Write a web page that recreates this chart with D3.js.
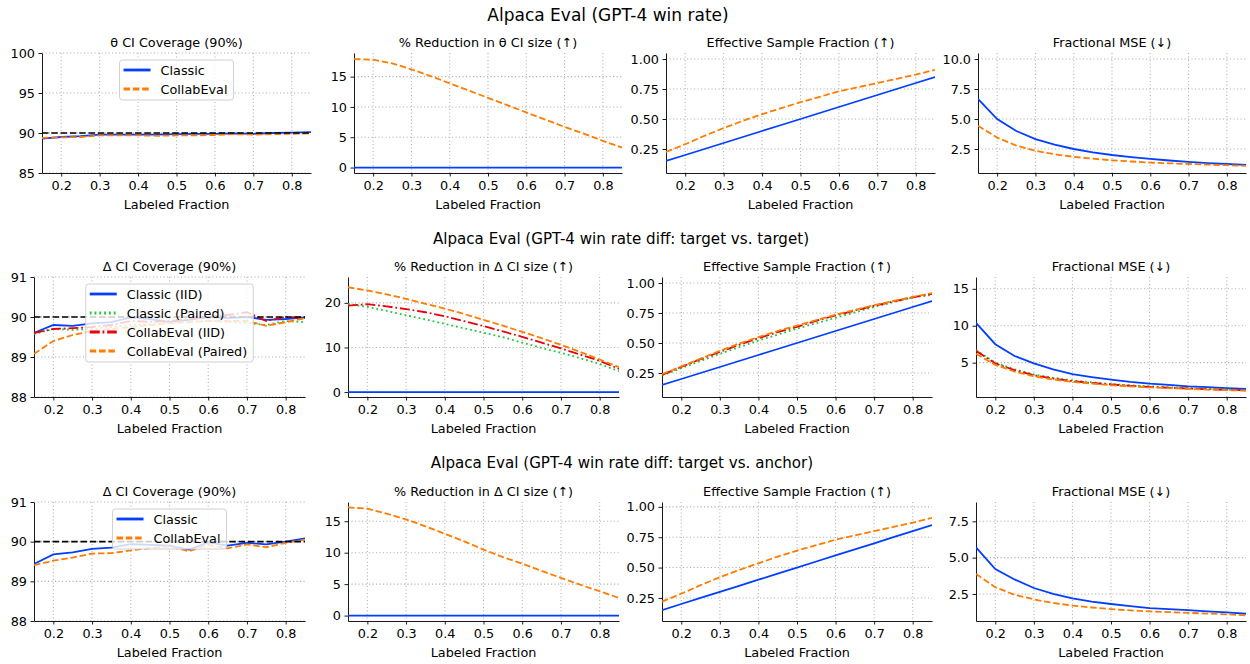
<!DOCTYPE html>
<html lang="en">
<head>
<meta charset="UTF-8">
<script src="https://d3js.org/d3.v7.min.js"></script>
<title>Alpaca Eval</title>
<style>
  body { margin: 0; background: #fff; }
  text { font-family: "DejaVu Sans", sans-serif; fill: #000; }
  .grid line { stroke: #b0b0b0; stroke-width: 1.1; stroke-dasharray: 1.1, 2.4; }
  .axis path, .axis line { stroke: #000; stroke-width: 0.9; }
  .axis text { font-size: 12.8px; }
</style>
</head>
<body>
<svg id="chart" width="1250" height="664"></svg>
<script>
// labeled fraction (x values)
const fracs = [0.15, 0.2, 0.25, 0.3, 0.35, 0.4, 0.45, 0.5, 0.55, 0.6, 0.65, 0.7, 0.75, 0.8, 0.85]
const xTicks = [0.2, 0.3, 0.4, 0.5, 0.6, 0.7, 0.8]

// row 1: GPT-4 win rate
const r1CovClassic = [89.3, 89.5, 89.6, 89.8, 89.8, 89.8, 89.8, 89.85, 89.9, 89.9, 89.95, 89.9, 90.0, 90.05, 90.1]
const r1CovCollab = [89.4, 89.45, 89.5, 89.7, 89.7, 89.7, 89.65, 89.7, 89.7, 89.75, 89.85, 89.8, 89.85, 89.9, 89.95]
const r1RedClassic = [0, 0, 0, 0, 0, 0, 0, 0, 0, 0, 0, 0, 0, 0, 0]
const r1RedCollab = [17.9, 17.8, 17.2, 16.2, 15.1, 13.9, 12.7, 11.5, 10.3, 9.1, 7.9, 6.7, 5.6, 4.4, 3.3]
const r1EffClassic = [0.15, 0.2, 0.25, 0.3, 0.35, 0.4, 0.45, 0.5, 0.55, 0.6, 0.65, 0.7, 0.75, 0.8, 0.85]
const r1EffCollab = [0.225, 0.29, 0.36, 0.425, 0.485, 0.54, 0.59, 0.64, 0.685, 0.73, 0.765, 0.8, 0.835, 0.87, 0.91]
const r1MseClassic = [6.67, 5.0, 4.0, 3.33, 2.86, 2.5, 2.22, 2.0, 1.82, 1.67, 1.54, 1.43, 1.33, 1.25, 1.18]
const r1MseCollab = [4.44, 3.45, 2.78, 2.35, 2.06, 1.85, 1.69, 1.56, 1.46, 1.37, 1.31, 1.25, 1.2, 1.15, 1.1]

// row 2: win rate diff, target vs. target
const r2CovClassicIID = [89.6, 89.8, 89.78, 89.84, 89.87, 89.99, 89.95, 89.87, 89.93, 90.0, 89.97, 90.0, 89.93, 89.95, 89.99]
const r2CovClassicPaired = [89.57, 89.7, 89.68, 89.7, 89.75, 89.8, 89.82, 89.85, 89.88, 89.9, 89.88, 89.85, 89.8, 89.9, 89.87]
const r2CovCollabIID = [89.6, 89.7, 89.72, 89.75, 89.8, 89.9, 89.88, 89.9, 89.95, 90.0, 90.05, 90.12, 89.9, 90.0, 89.98]
const r2CovCollabPaired = [89.08, 89.4, 89.55, 89.65, 89.7, 89.75, 89.8, 89.85, 89.87, 89.9, 89.9, 89.9, 89.78, 89.87, 89.97]
const r2RedClassicIID = [0, 0, 0, 0, 0, 0, 0, 0, 0, 0, 0, 0, 0, 0, 0]
const r2RedClassicPaired = [19.8, 19.1, 18.2, 17.2, 16.3, 15.3, 14.3, 13.3, 12.3, 11.1, 9.9, 8.8, 7.6, 6.3, 4.7]
const r2RedCollabIID = [19.4, 19.7, 19.2, 18.6, 17.9, 17.0, 15.9, 14.8, 13.6, 12.4, 11.1, 9.8, 8.4, 7.0, 5.2]
const r2RedCollabPaired = [23.5, 22.8, 21.9, 20.9, 19.8, 18.7, 17.5, 16.2, 14.9, 13.5, 12.1, 10.6, 9.0, 7.3, 5.6]
const r2EffClassicIID = [0.15, 0.2, 0.25, 0.3, 0.35, 0.4, 0.45, 0.5, 0.55, 0.6, 0.65, 0.7, 0.75, 0.8, 0.85]
const r2EffClassicPaired = [0.23, 0.29, 0.35, 0.41, 0.465, 0.52, 0.57, 0.62, 0.665, 0.71, 0.755, 0.8, 0.84, 0.88, 0.9]
const r2EffCollabIID = [0.235, 0.3, 0.365, 0.425, 0.485, 0.54, 0.59, 0.635, 0.685, 0.73, 0.77, 0.81, 0.845, 0.88, 0.91]
const r2EffCollabPaired = [0.24, 0.305, 0.37, 0.435, 0.495, 0.55, 0.6, 0.645, 0.69, 0.735, 0.775, 0.815, 0.85, 0.885, 0.915]
const r2MseClassicIID = [10.4, 7.5, 5.9, 4.9, 4.1, 3.45, 3.05, 2.7, 2.4, 2.16, 2.0, 1.8, 1.68, 1.56, 1.43]
const r2MseClassicPaired = [6.7, 5.0, 4.1, 3.4, 2.95, 2.6, 2.33, 2.1, 1.93, 1.8, 1.66, 1.55, 1.45, 1.35, 1.3]
const r2MseCollabIID = [6.6, 4.9, 4.0, 3.3, 2.85, 2.5, 2.25, 2.05, 1.87, 1.72, 1.6, 1.5, 1.4, 1.32, 1.25]
const r2MseCollabPaired = [6.2, 4.7, 3.8, 3.15, 2.72, 2.4, 2.15, 1.95, 1.78, 1.65, 1.54, 1.45, 1.36, 1.28, 1.2]

// row 3: win rate diff, target vs. anchor
const r3CovClassic = [89.44, 89.68, 89.73, 89.82, 89.85, 89.94, 89.92, 89.9, 89.8, 89.98, 89.9, 89.97, 89.93, 90.0, 90.08]
const r3CovCollab = [89.41, 89.52, 89.6, 89.7, 89.71, 89.78, 89.84, 89.88, 89.76, 89.92, 89.83, 89.93, 89.86, 89.97, 90.05]
const r3RedClassic = [0, 0, 0, 0, 0, 0, 0, 0, 0, 0, 0, 0, 0, 0, 0]
const r3RedCollab = [17.2, 17.0, 16.2, 15.3, 14.2, 13.0, 11.8, 10.5, 9.3, 8.25, 7.1, 6.0, 4.9, 3.87, 2.8]
const r3EffClassic = [0.15, 0.2, 0.25, 0.3, 0.35, 0.4, 0.45, 0.5, 0.55, 0.6, 0.65, 0.7, 0.75, 0.8, 0.85]
const r3EffCollab = [0.22, 0.285, 0.355, 0.42, 0.48, 0.535, 0.59, 0.64, 0.685, 0.73, 0.765, 0.8, 0.835, 0.87, 0.91]
const r3MseClassic = [5.71, 4.22, 3.5, 2.91, 2.5, 2.2, 1.98, 1.81, 1.66, 1.53, 1.46, 1.39, 1.3, 1.23, 1.14]
const r3MseCollab = [3.88, 2.96, 2.45, 2.13, 1.88, 1.7, 1.57, 1.46, 1.37, 1.3, 1.25, 1.2, 1.15, 1.1, 1.03]

const rowTitles = [
  'Alpaca Eval (GPT-4 win rate)',
  'Alpaca Eval (GPT-4 win rate diff: target vs. target)',
  'Alpaca Eval (GPT-4 win rate diff: target vs. anchor)'
]

// line styles
const sClassic = { name: 'Classic', color: '#023eff', dash: null }
const sCollab = { name: 'CollabEval', color: '#ff7c00', dash: '6.5,2.8' }
const sClassicIID = { name: 'Classic (IID)', color: '#023eff', dash: null }
const sClassicPaired = { name: 'Classic (Paired)', color: '#1ac938', dash: '1.8,3' }
const sCollabIID = { name: 'CollabEval (IID)', color: '#e8000b', dash: '10,2.8,1.8,2.8' }
const sCollabPaired = { name: 'CollabEval (Paired)', color: '#ff7c00', dash: '6.5,2.8' }

const pairs = (ys) => fracs.map((x, i) => [x, ys[i]])

// layout (pixels)
const rowTop = [53, 277, 502]
const rowBot = [173, 397, 621]
const colLeft = [[42, 354, 666, 978], [34, 348, 662, 976], [34, 348, 662, 976]]
const colRight = [[311, 622, 935, 1246], [305, 619, 932, 1246], [305, 619, 932, 1246]]
const titleY = [21, 244, 468]
const titleX = [608, 621, 622]
const titleSize = [17, 15.1, 15.1]

const panels = [
  // row 1
  { title: 'θ CI Coverage (90%)', y: [85, 100], ticks: [85, 90, 95, 100], fmt: 'd', ref: 90, legend: true,
    series: [[sClassic, r1CovClassic], [sCollab, r1CovCollab]] },
  { title: '% Reduction in θ CI size (↑)', y: [-0.9, 18.9], ticks: [0, 5, 10, 15], fmt: 'd',
    series: [[sClassic, r1RedClassic], [sCollab, r1RedCollab]] },
  { title: 'Effective Sample Fraction (↑)', y: [0.05, 1.05], ticks: [0.25, 0.5, 0.75, 1.0], fmt: '.2f',
    series: [[sClassic, r1EffClassic], [sCollab, r1EffCollab]] },
  { title: 'Fractional MSE (↓)', y: [0.5, 10.5], ticks: [2.5, 5, 7.5, 10], fmt: '.1f',
    series: [[sClassic, r1MseClassic], [sCollab, r1MseCollab]] },
  // row 2
  { title: 'Δ CI Coverage (90%)', y: [88, 91], ticks: [88, 89, 90, 91], fmt: 'd', ref: 90, legend: true,
    series: [[sClassicIID, r2CovClassicIID], [sClassicPaired, r2CovClassicPaired], [sCollabIID, r2CovCollabIID], [sCollabPaired, r2CovCollabPaired]] },
  { title: '% Reduction in Δ CI size (↑)', y: [-1.1, 25.8], ticks: [0, 10, 20], fmt: 'd',
    series: [[sClassicIID, r2RedClassicIID], [sClassicPaired, r2RedClassicPaired], [sCollabIID, r2RedCollabIID], [sCollabPaired, r2RedCollabPaired]] },
  { title: 'Effective Sample Fraction (↑)', y: [0.05, 1.05], ticks: [0.25, 0.5, 0.75, 1.0], fmt: '.2f',
    series: [[sClassicIID, r2EffClassicIID], [sClassicPaired, r2EffClassicPaired], [sCollabIID, r2EffCollabIID], [sCollabPaired, r2EffCollabPaired]] },
  { title: 'Fractional MSE (↓)', y: [0.35, 16.6], ticks: [5, 10, 15], fmt: 'd',
    series: [[sClassicIID, r2MseClassicIID], [sClassicPaired, r2MseClassicPaired], [sCollabIID, r2MseCollabIID], [sCollabPaired, r2MseCollabPaired]] },
  // row 3
  { title: 'Δ CI Coverage (90%)', y: [88, 91], ticks: [88, 89, 90, 91], fmt: 'd', ref: 90, legend: true,
    series: [[sClassic, r3CovClassic], [sCollab, r3CovCollab]] },
  { title: '% Reduction in Δ CI size (↑)', y: [-0.86, 18.06], ticks: [0, 5, 10, 15], fmt: 'd',
    series: [[sClassic, r3RedClassic], [sCollab, r3RedCollab]] },
  { title: 'Effective Sample Fraction (↑)', y: [0.06, 1.04], ticks: [0.25, 0.5, 0.75, 1.0], fmt: '.2f',
    series: [[sClassic, r3EffClassic], [sCollab, r3EffCollab]] },
  { title: 'Fractional MSE (↓)', y: [0.64, 8.83], ticks: [2.5, 5, 7.5], fmt: '.1f',
    series: [[sClassic, r3MseClassic], [sCollab, r3MseCollab]] }
]

const svg = d3.select('#chart')

rowTitles.forEach((t, r) => {
  svg.append('text')
    .attr('x', titleX[r]).attr('y', titleY[r])
    .attr('text-anchor', 'middle')
    .style('font-size', titleSize[r] + 'px')
    .text(t)
})

panels.forEach((p, k) => {
  const r = Math.floor(k / 4), c = k % 4
  const x0 = colLeft[r][c], x1 = colRight[r][c]
  const top = rowTop[r], bot = rowBot[r]

  const x = d3.scaleLinear().domain([0.15, 0.85]).range([x0, x1])
  const y = d3.scaleLinear().domain(p.y).range([bot, top])
  const g = svg.append('g')

  // grid
  const grid = g.append('g').attr('class', 'grid')
  grid.selectAll('.gx').data(xTicks).enter().append('line')
    .attr('x1', d => x(d)).attr('x2', d => x(d)).attr('y1', top).attr('y2', bot)
  grid.selectAll('.gy').data(p.ticks).enter().append('line')
    .attr('x1', x0).attr('x2', x1).attr('y1', d => y(d)).attr('y2', d => y(d))

  // axes
  g.append('g').attr('class', 'axis')
    .attr('transform', `translate(0,${bot})`)
    .call(d3.axisBottom(x).tickValues(xTicks).tickFormat(d3.format('.1f')).tickSize(3.5).tickPadding(4).tickSizeOuter(0))
  g.append('g').attr('class', 'axis')
    .attr('transform', `translate(${x0},0)`)
    .call(d3.axisLeft(y).tickValues(p.ticks).tickFormat(d3.format(p.fmt)).tickSize(3.5).tickPadding(3.5).tickSizeOuter(0))

  // clip
  const clipId = 'clip' + k
  g.append('clipPath').attr('id', clipId)
    .append('rect').attr('x', x0).attr('y', top).attr('width', x1 - x0).attr('height', bot - top)

  const line = d3.line().x(d => x(d[0])).y(d => y(d[1]))
  const lines = g.append('g').attr('clip-path', `url(#${clipId})`)
  p.series.forEach(([s, vals]) => {
    lines.append('path')
      .datum(pairs(vals))
      .attr('d', line)
      .attr('fill', 'none')
      .attr('stroke', s.color)
      .attr('stroke-width', 1.8)
      .attr('stroke-dasharray', s.dash)
  })
  if (p.ref !== undefined) {
    lines.append('line')
      .attr('x1', x0).attr('x2', x1).attr('y1', y(p.ref)).attr('y2', y(p.ref))
      .attr('stroke', '#000').attr('stroke-width', 1.6).attr('stroke-dasharray', '6.5,2.8')
  }

  // titles
  g.append('text').attr('x', (x0 + x1) / 2).attr('y', top - 6)
    .attr('text-anchor', 'middle').style('font-size', '12.8px').text(p.title)
  g.append('text').attr('x', (x0 + x1) / 2).attr('y', bot + 36)
    .attr('text-anchor', 'middle').style('font-size', '12.8px').text('Labeled Fraction')

  // legend, upper center
  if (p.legend) {
    const lg = g.append('g')
    const box = lg.append('rect')
      .attr('fill', 'rgba(255,255,255,0.8)').attr('stroke', '#d0d0d0')
      .attr('stroke-width', 1).attr('rx', 3)
    let maxW = 0
    const rowH = 19
    p.series.forEach(([s], i) => {
      const yy = top + 17 + i * rowH
      lg.append('line')
        .attr('x1', 4).attr('x2', 31).attr('y1', yy).attr('y2', yy)
        .attr('stroke', s.color).attr('stroke-width', 2.8)
        .attr('stroke-dasharray', s.dash)
      const t = lg.append('text').attr('x', 41).attr('y', yy + 4.6)
        .style('font-size', '12.8px').text(s.name)
      maxW = Math.max(maxW, t.node().getComputedTextLength())
    })
    const w = 41 + maxW + 6
    const h = p.series.length * rowH + 2
    box.attr('x', 0).attr('y', top + 7).attr('width', w).attr('height', h)
    lg.attr('transform', `translate(${(x0 + x1) / 2 - w / 2},0)`)
  }
})
</script>
</body>
</html>
